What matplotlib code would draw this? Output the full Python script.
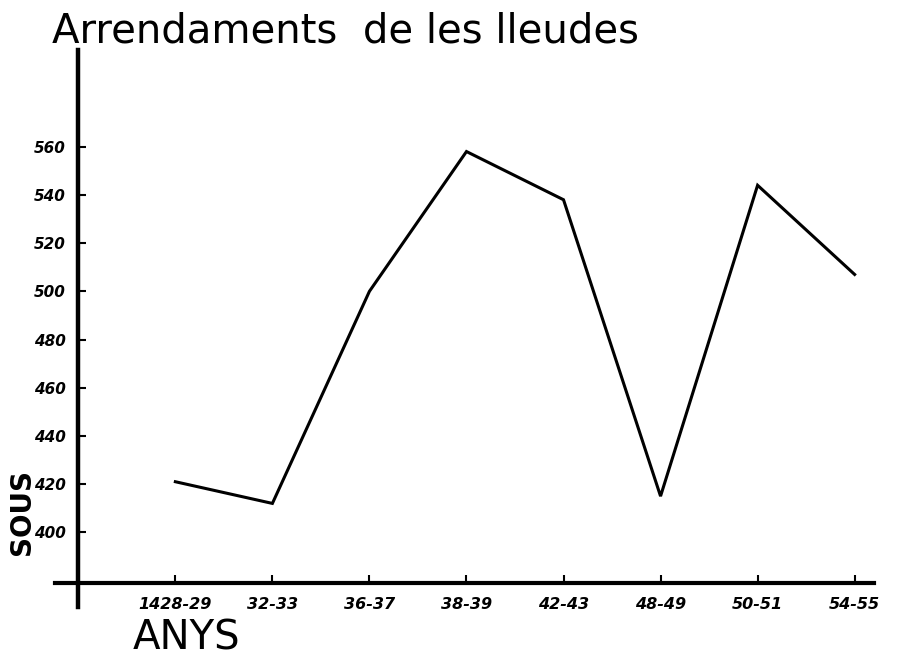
import matplotlib
matplotlib.use("Agg")
import matplotlib.pyplot as plt
import numpy as np

# values
periods = ["1428-29", "32-33", "36-37", "38-39", "42-43", "48-49", "50-51", "54-55"]
sous = [421, 412, 500, 558, 538, 415, 544, 507]
y_ticks = [400, 420, 440, 460, 480, 500, 520, 540, 560]

x = np.arange(1, len(periods) + 1)

fig = plt.figure(figsize=(9.02, 6.62), dpi=100)
ax = fig.add_axes([0.061, 0.083, 0.908, 0.841])

ax.plot(x, sous, color="black", lw=2.2, solid_joinstyle="miter")

# axes cross like a hand-drawn cross: y axis at x=0, x axis a bit under 400
ax.set_xlim(-0.24, 8.2)
ax.set_ylim(369, 600)
for side in ["top", "right"]:
    ax.spines[side].set_visible(False)
ax.spines["left"].set_position(("data", 0))
ax.spines["bottom"].set_position(("data", 379))
ax.spines["left"].set_linewidth(3.2)
ax.spines["bottom"].set_linewidth(3.0)

ax.set_xticks(x)
ax.set_xticklabels(periods)
ax.set_yticks(y_ticks)
ax.tick_params(axis="both", direction="in", length=6, width=1.5)
ax.tick_params(axis="y", pad=9)
ax.tick_params(axis="x", pad=10)
for lab in ax.get_xticklabels():
    lab.set_fontsize(11.5)
for lab in ax.get_yticklabels():
    lab.set_fontsize(11)
for lab in ax.get_xticklabels() + ax.get_yticklabels():
    lab.set_fontweight("bold")
    lab.set_fontstyle("italic")

fig.text(0.058, 0.953, "Arrendaments  de les lleudes", fontsize=29,
         ha="left", va="center")
fig.text(0.024, 0.226, "SOUS", fontsize=20, fontweight="bold",
         rotation=90, ha="center", va="center")
fig.text(0.207, 0.035, "ANYS", fontsize=29, ha="center", va="center")

fig.savefig("out.png", dpi=100)
